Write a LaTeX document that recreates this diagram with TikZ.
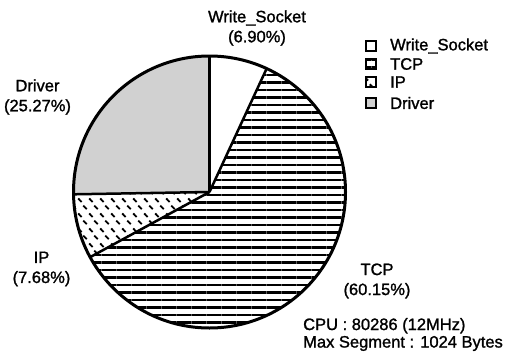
\documentclass[tikz,border=0pt]{standalone}
\usepackage{fontspec}
\setmainfont{Liberation Sans}[BoldFont=Liberation Sans, BoldFeatures={FakeBold=1.3}]
\usetikzlibrary{patterns,patterns.meta}
\pgfdeclarepatternformonly{ipdash}{\pgfqpoint{0pt}{0pt}}{\pgfqpoint{11pt}{15pt}}{\pgfqpoint{11pt}{15pt}}{%
  \pgfsetlinewidth{2pt}%
  \pgfpathmoveto{\pgfqpoint{1.3pt}{13.2pt}}\pgfpathlineto{\pgfqpoint{5pt}{9.5pt}}%
  \pgfpathmoveto{\pgfqpoint{6.8pt}{5.7pt}}\pgfpathlineto{\pgfqpoint{10.5pt}{2pt}}%
  \pgfusepath{stroke}}
\tikzset{
  lab/.style={font=\fontsize{16.5}{20}\selectfont\bfseries, align=center, inner sep=0pt},
  note/.style={font=\fontsize{16.5}{17.5}\selectfont\bfseries, align=left, inner sep=0pt, anchor=west},
  legbox/.style={draw, line width=1.8pt, minimum size=10pt, inner sep=0pt},
  legtext/.style={font=\fontsize{16.5}{20}\selectfont\bfseries, inner sep=0pt, anchor=west},
  border/.style={line width=2.5pt},
  rim/.style={line width=3pt},
  tcphatch/.style={pattern={Lines[angle=0,distance=7.5pt,line width=2.2pt]}},
  driverfill/.style={fill=black!18},
  iphatch/.style={pattern=ipdash}
}
\begin{document}
\begin{tikzpicture}[x=1pt,y=1pt]
\useasboundingbox (0,0) rectangle (516,360);
\coordinate (c) at (209.5,168);
\def\R{136}
% sectors
\fill[driverfill] (c) -- ++(90:\R) arc[start angle=90,end angle=180.97,radius=\R] -- cycle;
\fill[iphatch] (c) -- ++(180.97:\R) arc[start angle=180.97,end angle=208.62,radius=\R] -- cycle;
\fill[tcphatch] (c) -- ++(208.62:\R) arc[start angle=208.62,end angle=425.16,radius=\R] -- cycle;
% borders
\draw[border] (c) -- ++(90:\R);
\draw[border] (c) -- ++(180.97:\R);
\draw[border] (c) -- ++(208.62:\R);
\draw[border] (c) -- ++(425.16:\R);
\draw[rim] (c) circle[radius=\R];
% labels
\node[lab] (ws) at (257,332) {Write\_Socket\\(6.90\%)};
\node[lab] (drv) at (37.5,263) {Driver\\(25.27\%)};
\node[lab] (ip) at (41.5,91) {IP\\(7.68\%)};
\node[lab] (tcp) at (377,79) {TCP\\(60.15\%)};
\node[note] (cpu) at (303,25.5) {CPU : 80286 (12MHz)\\Max Segment : 1024 Bytes};
% legend
\node[legbox] (lws) at (371,314) {};
\node[legbox, tcphatch] (ltcp) at (371,296) {};
\node[legbox, iphatch] (lip) at (371,278) {};
\node[legbox, driverfill] (ldrv) at (371,257) {};
\node[legtext] (tws) at (390,314) {Write\_Socket};
\node[legtext] (ttcp) at (390,296) {TCP};
\node[legtext] (tip) at (390,278) {IP};
\node[legtext] (tdrv) at (390,257) {Driver};
\end{tikzpicture}
\end{document}
